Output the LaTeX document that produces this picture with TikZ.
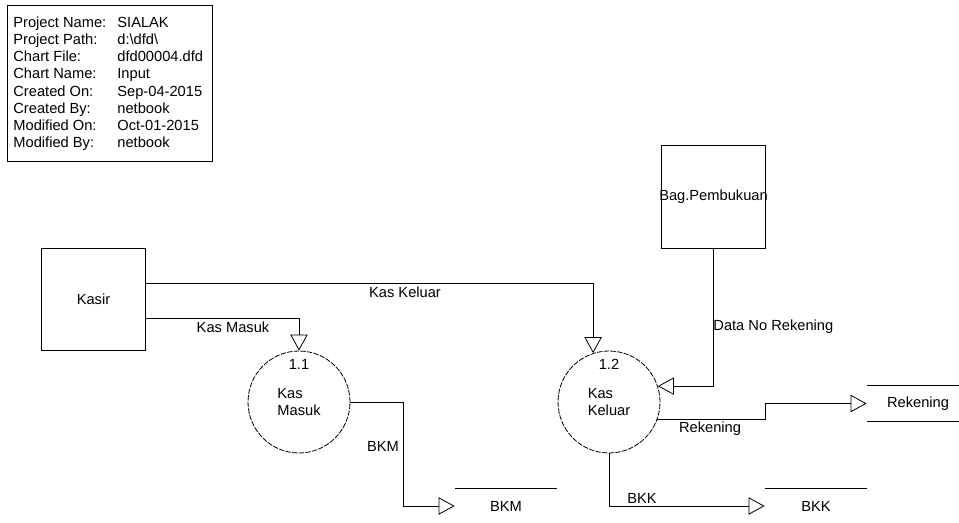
\documentclass[tikz,border=0pt]{standalone}
\usepackage{fontspec}
\setmainfont{Liberation Sans}
\usetikzlibrary{arrows.meta, positioning}

\tikzset{
  entity/.style={draw, minimum width=77.5pt, minimum height=77pt},
  process/.style={draw, circle, dash pattern=on 4pt off 1pt, minimum size=76.5pt, align=left, inner sep=0pt},
  store/.style={minimum width=76.5pt, minimum height=26pt},
  flow/.style={-{Triangle[open, length=12pt, width=13pt]}},
}

\begin{document}
\begin{tikzpicture}[x=0.75pt,y=0.75pt,yscale=-1,xscale=1, font=\fontsize{11}{13.2}\selectfont, line width=0.6pt]
\useasboundingbox (0,0) rectangle (959,522);

% Project info
\node[draw, anchor=north west, minimum width=153.75pt, minimum height=117pt] (info) at (7,5) {};
\foreach \k/\key/\val in {0/{Project Name:}/{SIALAK}, 1/{Project Path:}/{d:\textbackslash dfd\textbackslash}, 2/{Chart File:}/{dfd00004.dfd}, 3/{Chart Name:}/{Input}, 4/{Created On:}/{Sep-04-2015}, 5/{Created By:}/{netbook}, 6/{Modified On:}/{Oct-01-2015}, 7/{Modified By:}/{netbook}}{
  \node[anchor=base west, inner sep=0pt] (key\k) at (13,27.3+17.2*\k) {\key};
  \node[anchor=base west, inner sep=0pt] (val\k) at (117,27.3+17.2*\k) {\val};
}

% External entities
\node[entity] (kasir) at (93.5,299.5) {Kasir};
\node[entity, label=center:Bag.Pembukuan] (bag) at (713.5,197) {};

% Processes
\node[process] (p11) at (299,402) {Kas\\Masuk};
\node[below=3pt of p11.north] (p11num) {1.1};
\node[process] (p12) at (609,402) {Kas\\Keluar};
\node[below=3pt of p12.north] (p12num) {1.2};

% Data stores
\node[store] (bkm) at (506,506) {BKM};
\draw (bkm.north west) -- (bkm.north east);
\node[store] (bkk) at (816,506) {BKK};
\draw (bkk.north west) -- (bkk.north east);
\node[store] (rek) at (918,403.5) {Rekening};
\draw (rek.north west) -- (rek.north east);
\draw (rek.south west) -- (rek.south east);

% Data flows
\draw[flow] (kasir.east) ++(0,-16.5) -| (p12.108);
\draw[flow] (kasir.east) ++(0,18.5) -| (p11.north);
\draw[flow] (bag.south) |- (p12.18);
\draw[flow] (p12.-20) -- ++(108,0) |- (rek.west);
\draw[flow] (p11.east) -- ++(53,0) |- (bkm.west);
\draw[flow] (p12.south) |- (bkk.west);

% Flow labels
\node (lkeluar) at (405,292) {Kas Keluar};
\node (lmasuk) at (233,327) {Kas Masuk};
\node[anchor=west, inner sep=0pt] (ldata) at (713,327) {Data No Rekening};
\node (lrek) at (710,429) {Rekening};
\node (lbkm) at (383,446) {BKM};
\node (lbkk) at (642,498) {BKK};

\end{tikzpicture}
\end{document}
